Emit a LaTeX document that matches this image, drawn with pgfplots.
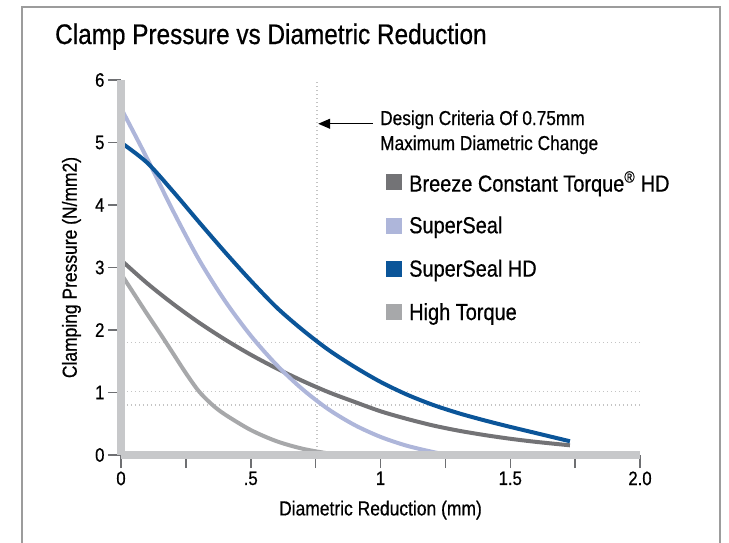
\documentclass[border=0pt]{standalone}
\usepackage{fontspec}
\setmainfont{Liberation Sans}[FakeStretch=0.86, FakeBold=0.6]
\usepackage{pgfplots}
\pgfplotsset{compat=1.18}
\usetikzlibrary{arrows.meta}

\definecolor{hdblue}{HTML}{0B5599}
\definecolor{ssblue}{HTML}{AEB6DA}
\definecolor{breeze}{HTML}{737376}
\definecolor{htgray}{HTML}{A7A8AA}
\definecolor{bargray}{HTML}{C7C8CA}
\definecolor{tickgray}{HTML}{6E6F72}
\definecolor{dotgray}{HTML}{C4C4C4}
\definecolor{framegray}{HTML}{9C9C9C}

\pgfplotsset{
  dotline/.style={forget plot, dotgray, line width=1.3pt, dash pattern=on 1.3pt off 2.7pt},
  curve/.style={line width=4pt, smooth},
}

\begin{document}
\begin{tikzpicture}[x=1pt,y=1pt]
\useasboundingbox (0,0) rectangle (729,-542);
\clip (0,0) rectangle (729,-542);
\draw[framegray, line width=1.2pt] (22,-560) -- (22,-7) -- (720,-7) -- (720,-560);
\node[anchor=base west, inner sep=0pt, font=\fontsize{28.3}{32}\selectfont] at (55,-44) {Clamp Pressure vs Diametric Reduction};

\begin{axis}[
  at={(121pt,-455pt)}, anchor=south west,
  scale only axis, width=519pt, height=375pt,
  xmin=0, xmax=2, ymin=0, ymax=6,
  clip=false, axis on top,
  axis x line*=bottom, axis y line*=left,
  axis line style={draw=bargray, line width=8pt, -},
  xtick={0,0.25,0.5,0.75,1,1.25,1.5,1.75,2},
  xticklabels={0,,.5,,1,,1.5,,2.0},
  ytick={0,1,2,3,4,5,6},
  tick align=outside, major tick length=13pt,
  tick style={draw=tickgray, line width=1.5pt},
  /pgf/number format/assume math mode=true,
  ticklabel style={font=\fontsize{19.5}{22}\selectfont},
  xlabel={Diametric Reduction (mm)},
  ylabel={Clamping Pressure (N/mm2)},
  label style={font=\fontsize{20.3}{24}\selectfont},
  xlabel style={at={(axis description cs:0.5,-0.147)}, anchor=center},
  ylabel style={at={(axis description cs:-0.0954,0.5)}, anchor=center},
  legend style={at={(axis description cs:0.5106,0.7573)}, anchor=north west,
    draw=none, fill=none, inner sep=0pt, row sep=17.4pt, column sep=7pt,
    font=\fontsize{23.2}{26}\selectfont, nodes={inner sep=0pt}},
  legend cell align=left,
  legend image code/.code={\fill[#1, draw=none] (0pt,-8pt) rectangle (16pt,8pt); \path[draw=none, fill=none] (0pt,-15.3pt) -- (0pt,10.7pt);},
]
\addplot[dotline] coordinates {(0.755,0) (0.755,5.97)};
\addplot[dotline] coordinates {(0.023,1.797) (2.01,1.797)};
\addplot[dotline] coordinates {(0.023,1.02) (2.01,1.02)};
\addplot[dotline] coordinates {(0.023,0.80) (2.01,0.80)};

\addplot[breeze, curve] coordinates {
  (0,3.12) (0.1,2.75) (0.2,2.42) (0.3,2.12) (0.4,1.85) (0.5,1.605) (0.6,1.385)
  (0.7,1.185) (0.8,1.005) (0.9,0.85) (1.0,0.70) (1.1,0.58) (1.2,0.475) (1.3,0.39)
  (1.4,0.32) (1.5,0.26) (1.6,0.21) (1.73,0.155)};
\addlegendentry{Breeze Constant Torque\textsuperscript{®} HD}

\addplot[ssblue, curve] coordinates {
  (0,5.55) (0.1,4.75) (0.2,3.91) (0.3,3.13) (0.4,2.47) (0.5,1.91) (0.6,1.44)
  (0.7,1.05) (0.8,0.73) (0.9,0.48) (1.0,0.29) (1.1,0.15) (1.2,0.05) (1.26,0.0)};
\addlegendentry{SuperSeal}

\addplot[hdblue, curve] coordinates {
  (0,5.00) (0.1,4.68) (0.2,4.22) (0.3,3.73) (0.4,3.25) (0.5,2.79) (0.6,2.36)
  (0.7,2.00) (0.8,1.68) (0.9,1.41) (1.0,1.17) (1.1,0.97) (1.2,0.805) (1.3,0.67)
  (1.4,0.555) (1.5,0.45) (1.6,0.35) (1.73,0.22)};
\addlegendentry{SuperSeal HD}

\addplot[htgray, curve] coordinates {
  (0,2.90) (0.05,2.58) (0.1,2.26) (0.15,1.95) (0.2,1.63) (0.25,1.31) (0.3,1.02)
  (0.35,0.81) (0.4,0.65) (0.5,0.40) (0.6,0.22) (0.7,0.10) (0.8,0.025) (0.85,0.0)};
\addlegendentry{High Torque}

\draw[-{Triangle[length=12pt,width=10pt]}, line width=1.2pt, black]
  (axis cs:0.971,5.30) -- (axis cs:0.760,5.30);
\node[anchor=base west, inner sep=0pt, font=\fontsize{20.1}{24}\selectfont]
  at (axis cs:0.998,5.28) {Design Criteria Of 0.75mm};
\node[anchor=base west, inner sep=0pt, font=\fontsize{20.1}{24}\selectfont]
  at (axis cs:0.998,4.88) {Maximum Diametric Change};
\end{axis}
\end{tikzpicture}
\end{document}
